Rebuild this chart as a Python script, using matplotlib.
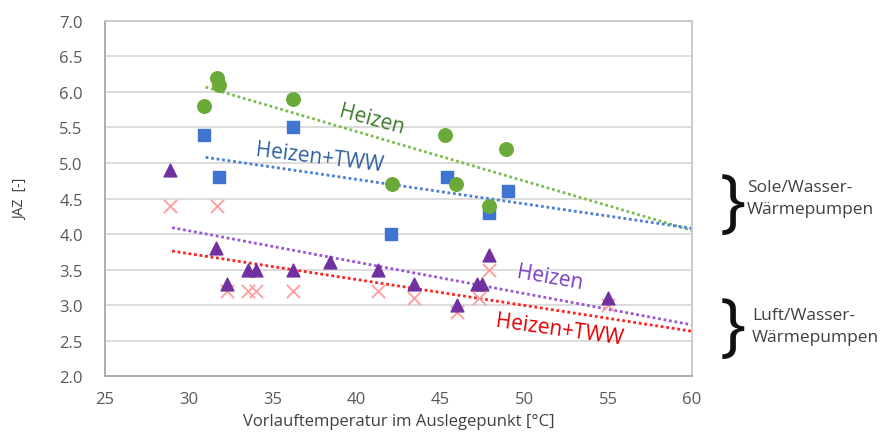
import matplotlib
matplotlib.use("Agg")
import matplotlib.pyplot as plt

plt.rcParams['font.family'] = ['Open Sans', 'DejaVu Sans']

# Sole/Wasser-Wärmepumpen
sole_heiz_x = [30.9, 31.7, 31.8, 36.2, 42.1, 45.3, 45.9, 47.9, 48.9]
sole_heiz_y = [5.8, 6.2, 6.1, 5.9, 4.7, 5.4, 4.7, 4.4, 5.2]
sole_tww_x = [30.9, 31.8, 36.2, 42.05, 45.4, 47.9, 49.0]
sole_tww_y = [5.4, 4.8, 5.5, 4.0, 4.8, 4.3, 4.6]

# Luft/Wasser-Wärmepumpen
luft_heiz_x = [28.9, 31.6, 32.3, 33.5, 34.0, 36.2, 38.4, 41.3, 43.4, 46.0, 47.2, 47.5, 47.9, 55.0]
luft_heiz_y = [4.9, 3.8, 3.3, 3.5, 3.5, 3.5, 3.6, 3.5, 3.3, 3.0, 3.3, 3.3, 3.7, 3.1]
luft_tww_x = [28.9, 31.7, 32.3, 33.5, 34.0, 36.2, 41.3, 43.4, 46.0, 47.3, 47.9, 55.0]
luft_tww_y = [4.4, 4.4, 3.2, 3.2, 3.2, 3.2, 3.2, 3.1, 2.9, 3.1, 3.5, 3.0]

# trend lines (start / end)
trend_sole_heiz = ([31.0, 60.0], [6.07, 4.05])
trend_sole_tww = ([31.0, 60.0], [5.08, 4.08])
trend_luft_heiz = ([29.0, 60.0], [4.09, 2.72])
trend_luft_tww = ([29.0, 60.0], [3.76, 2.63])

fig = plt.figure(figsize=(8.92, 4.39), dpi=100)
ax = fig.add_axes([0.1177, 0.1412, 0.6581, 0.8087])

ax.plot(*trend_sole_heiz, ls=(0, (1, 1)), lw=2, color='#7dbd4f', zorder=2)
ax.plot(*trend_sole_tww, ls=(0, (1, 1)), lw=2, color='#4a7fd6', zorder=2)
ax.plot(*trend_luft_heiz, ls=(0, (1, 1)), lw=2, color='#9a55d6', zorder=2)
ax.plot(*trend_luft_tww, ls=(0, (1, 1)), lw=2, color='#ff2020', zorder=2)

ax.scatter(luft_tww_x, luft_tww_y, marker='x', s=90, color='#ff9c9c', linewidths=1.3, zorder=3)
ax.scatter(luft_heiz_x, luft_heiz_y, marker='^', s=85, color='#7030a0', zorder=4)
ax.scatter(sole_tww_x, sole_tww_y, marker='s', s=80, color='#3f74d2', zorder=4)
ax.scatter(sole_heiz_x, sole_heiz_y, marker='o', s=95, color='#6aaa3a', zorder=5)

ax.text(40.9, 5.62, 'Heizen', color='#3d7a2a', fontsize=15, rotation=-15,
        ha='center', va='center')
ax.text(37.8, 5.08, 'Heizen+TWW', color='#2f609e', fontsize=15, rotation=-7,
        ha='center', va='center')
ax.text(51.5, 3.39, 'Heizen', color='#7a3dc4', fontsize=15, rotation=-10,
        ha='center', va='center')
ax.text(52.1, 2.66, 'Heizen+TWW', color='#e00000', fontsize=15, rotation=-8,
        ha='center', va='center')

ax.set_xlim(25, 60)
ax.set_ylim(2.0, 7.0)
ax.set_xticks(range(25, 61, 5))
ax.set_yticks([2.0 + 0.5 * i for i in range(11)])
ax.set_yticklabels([f'{2.0 + 0.5 * i:.1f}' for i in range(11)])
ax.grid(axis='y', color='#d9d9d9', lw=1.3)
ax.set_axisbelow(True)
for sp in ax.spines.values():
    sp.set_color('#c8c8c8')
    sp.set_linewidth(1.3)
ax.spines['left'].set_color('#a6a6a6')
ax.spines['bottom'].set_color('#a6a6a6')
ax.tick_params(length=0, labelsize=12, colors='#595959')
ax.tick_params(axis='y', pad=16)
ax.tick_params(axis='x', pad=11)

ax.set_xlabel('Vorlauftemperatur im Auslegepunkt [°C]', fontsize=12, color='#404040', labelpad=4)
ax.set_ylabel('JAZ  [-]', fontsize=10, color='#404040', labelpad=22)

fig.text(0.821, 0.531, '}', fontsize=50, ha='center', va='center', color='#111111')
fig.text(0.837, 0.547, 'Sole/Wasser-\nWärmepumpen', fontsize=12.5, ha='left', va='center',
         color='#404040', linespacing=1.5)
fig.text(0.821, 0.248, '}', fontsize=50, ha='center', va='center', color='#111111')
fig.text(0.843, 0.255, 'Luft/Wasser-\nWärmepumpen', fontsize=12.5, ha='left', va='center',
         color='#404040', linespacing=1.5)

fig.savefig('out.png', dpi=100)
